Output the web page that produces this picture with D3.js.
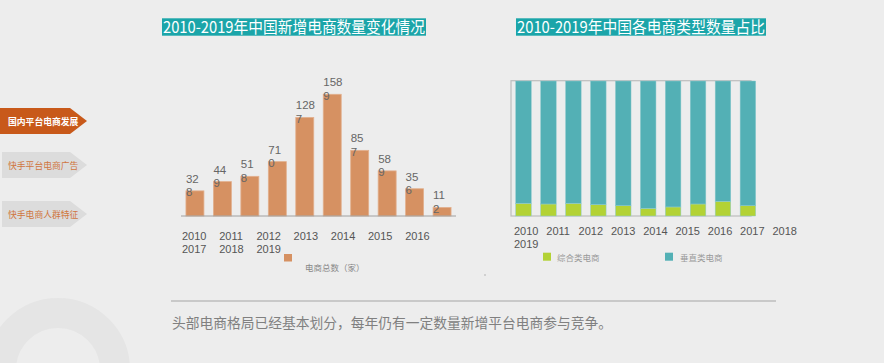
<!DOCTYPE html>
<html><head><meta charset="utf-8">
<script src="https://cdn.jsdelivr.net/npm/d3@7"></script>
<style>
html,body{margin:0;padding:0;background:#ededed;}
svg{display:block;}
</style></head>
<body>
<svg id="c" width="884" height="363"></svg>
<script>
// ---- data ----
const years = ["2010","2011","2012","2013","2014","2015","2016","2017","2018","2019"];
const totalCounts = [328, 449, 518, 710, 1287, 1589, 857, 589, 356, 112];
const comprehensivePct = [9.4, 8.9, 9.4, 8.4, 7.6, 5.7, 6.7, 8.9, 10.9, 7.6];
const verticalPct = comprehensivePct.map(v => 100 - v);
const leftTitle = "2010-2019年中国新增电商数量变化情况";
const rightTitle = "2010-2019年中国各电商类型数量占比";
const leftLegend = "电商总数（家）";
const rightLegend = ["综合类电商", "垂直类电商"];
const navItems = ["国内平台电商发展", "快手平台电商广告", "快手电商人群特征"];
const footnote = "头部电商格局已经基本划分，每年仍有一定数量新增平台电商参与竞争。";

const svg = d3.select("#c");
const FONT = "'Liberation Sans','Noto Sans CJK SC',sans-serif";
const CJK = "'Noto Sans CJK SC',sans-serif";

// background ring
svg.append("circle").attr("cx",58).attr("cy",370).attr("r",57)
  .attr("fill","none").attr("stroke","#e5e5e5").attr("stroke-width",30);

// nav tabs
const tabs = [
  {y:108, fill:"#c8591a", color:"#ffffff", weight:"bold"},
  {y:152, fill:"#dcdcdc", color:"#d0763f", weight:"normal"},
  {y:201, fill:"#dcdcdc", color:"#d0763f", weight:"normal"}
];
navItems.forEach((t,i)=>{
  const tb = tabs[i], h = 26, x0 = i===0?0:2;
  svg.append("path")
    .attr("d",`M${x0},${tb.y}L70,${tb.y}L87,${tb.y+h/2}L70,${tb.y+h}L${x0},${tb.y+h}Z`)
    .attr("fill",tb.fill);
  svg.append("text").attr("x",8).attr("y",tb.y+h/2+3.5)
    .attr("font-family",CJK).attr("font-size",8.8).attr("font-weight",tb.weight)
    .attr("fill",tb.color).text(t);
});

// titles
function title(x, width, str){
  const g = svg.append("g");
  g.append("rect").attr("fill","#1ba5a9")
    .attr("x",x).attr("y",18.3).attr("width",width).attr("height",17.4);
  g.append("text").attr("x",x+1).attr("y",33)
    .attr("font-family",CJK).attr("font-size",16.3).attr("fill","#ffffff")
    .attr("textLength",width-2).attr("lengthAdjust","spacingAndGlyphs").text(str);
}
title(162, 264, leftTitle);
title(516, 250, rightTitle);

// ---- left bar chart ----
const xL = d3.scaleBand().domain(years).range([181,456]).paddingInner(0.345).paddingOuter(0.18);
const yL = d3.scaleLinear().domain([0,1589]).range([216,94.3]);

svg.append("g").selectAll("rect").data(years).join("rect")
  .attr("x",d=>xL(d)).attr("width",xL.bandwidth())
  .attr("y",(d,i)=>yL(totalCounts[i])).attr("height",(d,i)=>yL(0)-yL(totalCounts[i]))
  .attr("fill","#d69162").attr("stroke","#e2b08e").attr("stroke-width",0.8);

svg.append("line").attr("x1",181).attr("x2",456).attr("y1",yL(0)).attr("y2",yL(0))
  .attr("stroke","#a0a0a0").attr("stroke-width",1);

// wrapped value labels (narrow label box wraps the last digit)
const valG = svg.append("g").attr("font-family",FONT).attr("font-size",11.5).attr("fill","#666");
years.forEach((d,i)=>{
  const s = String(totalCounts[i]);
  const top = yL(totalCounts[i]);
  const t = valG.append("text");
  t.append("tspan").attr("x",xL(d)).attr("y",top-8).text(s.slice(0,-1));
  t.append("tspan").attr("x",xL(d)).attr("y",top+5.3).text(s.slice(-1));
});

// x labels flowing in rows (one wrapped text block)
function flowLabels(list, x0, step, perRow, y0, lh){
  const t = svg.append("text").attr("font-family",FONT).attr("font-size",11).attr("fill","#555");
  list.forEach((d,i)=>{
    const row = Math.floor(i/perRow), col = i%perRow;
    t.append("tspan").attr("x",x0+col*step).attr("y",y0+row*lh).text(d);
  });
}
flowLabels(years, 182, 37.2, 7, 239.7, 12.8);

// left legend
svg.append("rect").attr("x",284).attr("y",254).attr("width",8).attr("height",7.5).attr("fill","#d69162");
svg.append("text").attr("x",305).attr("y",271).attr("font-family",CJK).attr("font-size",8.5)
  .attr("fill","#888").text(leftLegend);

// ---- right stacked chart ----
const xR = d3.scaleBand().domain(years).range([515.7, 515.7 + 240]).paddingInner(0.375).paddingOuter(0);
const yR = d3.scaleLinear().domain([0,100]).range([216,81]);

svg.append("rect").attr("x",511).attr("y",80.7).attr("width",240).attr("height",135.3)
  .attr("fill","none").attr("stroke","#bdbdbd").attr("stroke-width",1.2);

const stackData = years.map((y,i)=>({year:y, comp:comprehensivePct[i], vert:verticalPct[i]}));
const series = d3.stack().keys(["comp","vert"])(stackData);
const colors = {comp:"#b3d235", vert:"#53b0b5"};
svg.append("g").selectAll("g").data(series).join("g")
  .attr("fill",s=>colors[s.key])
  .selectAll("rect").data(s=>s).join("rect")
  .attr("x",d=>xR(d.data.year)).attr("width",xR.bandwidth())
  .attr("y",d=>yR(d[1])).attr("height",d=>yR(d[0])-yR(d[1]))
  .attr("stroke","#8fcbcf").attr("stroke-width",0.5);

flowLabels(years, 514, 32.3, 9, 234.7, 12.8);

// right legend
svg.append("rect").attr("x",543).attr("y",252.7).attr("width",8).attr("height",8).attr("fill",colors.comp);
svg.append("text").attr("x",557).attr("y",260.5).attr("font-family",CJK).attr("font-size",8.5)
  .attr("fill","#999").text(rightLegend[0]);
svg.append("rect").attr("x",665).attr("y",252.7).attr("width",8).attr("height",8).attr("fill",colors.vert);
svg.append("text").attr("x",680).attr("y",260.5).attr("font-family",CJK).attr("font-size",8.5)
  .attr("fill","#999").text(rightLegend[1]);

// small dot
svg.append("circle").attr("cx",485).attr("cy",275).attr("r",0.8).attr("fill","#aaa");

// separator + footnote
svg.append("line").attr("x1",171).attr("x2",776).attr("y1",301).attr("y2",301)
  .attr("stroke","#bdbdbd").attr("stroke-width",1.5);
svg.append("text").attr("x",172).attr("y",328).attr("font-family",CJK).attr("font-size",13.75)
  .attr("fill","#808080").text(footnote);
</script>
</body></html>
